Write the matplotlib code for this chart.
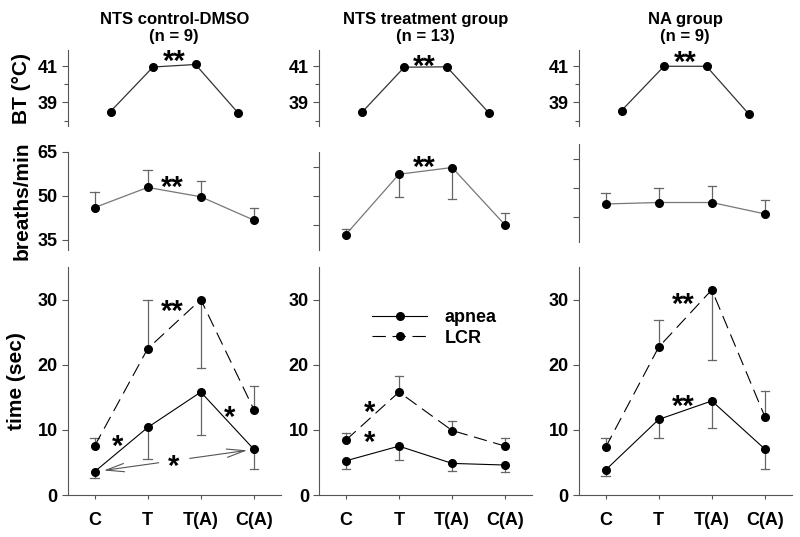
import matplotlib
matplotlib.use("Agg")
import matplotlib.pyplot as plt
import matplotlib.transforms as mtrans
import numpy as np

plt.rcParams["font.family"] = ["Liberation Sans", "DejaVu Sans"]
plt.rcParams["font.weight"] = "bold"

CATS = ["C", "T", "T(A)", "C(A)"]
TITLES = ["NTS control-DMSO\n(n = 9)", "NTS treatment group\n(n = 13)", "NA group\n(n = 9)"]

# body temperature (no error bars)
BT = [[38.5, 40.96, 41.1, 38.43],
      [38.45, 40.95, 40.97, 38.4],
      [38.55, 41.0, 41.0, 38.35]]

# breathing rate: mean, error magnitude, direction (+1 up / -1 down)
BR = [[46.0, 52.9, 49.7, 41.7],
      [36.8, 57.4, 59.7, 40.0],
      [44.5, 45.0, 45.0, 41.1]]
BR_ERR = [[5.4, 6.1, 5.4, 4.0],
          [1.9, 7.7, 10.9, 4.0],
          [3.9, 4.9, 5.7, 4.8]]
BR_SIDE = [[1, 1, 1, 1],
           [1, -1, -1, 1],
           [1, 1, 1, 1]]

# apnea / LCR durations (sec)
APNEA = [[3.57, 10.37, 15.8, 7.0],
         [5.25, 7.5, 4.85, 4.6],
         [3.83, 11.6, 14.44, 7.04]]
APNEA_ERR = [[1.0, 4.9, 6.6, 3.0],
             [1.3, 2.1, 1.1, 1.1],
             [0.9, 2.8, 4.1, 3.1]]
APNEA_SIDE = [[-1, -1, -1, -1],
              [-1, -1, -1, -1],
              [-1, -1, -1, -1]]
LCR = [[7.5, 22.46, 30.0, 13.1],
       [8.42, 15.8, 9.9, 7.5],
       [7.3, 22.7, 31.5, 12.0]]
LCR_ERR = [[1.2, 7.5, 10.5, 3.6],
           [1.1, 2.4, 1.5, 1.2],
           [1.5, 4.2, 10.7, 4.0]]
LCR_SIDE = [[1, 1, -1, 1],
            [1, 1, 1, 1],
            [1, 1, -1, 1]]

# significance marks: (x, y, text) in data units
STARS_BT = [(1.5, 41.5, "**"), (1.48, 41.25, "**"), (1.5, 41.45, "**")]
STARS_BR = [[(1.46, 54.3, "**")], [(1.48, 61.1, "**")], []]
STARS_T = [[(1.46, 28.8, "**"), (0.43, 8.1, "*"), (2.55, 12.6, "*"), (1.48, 5.05, "*")],
           [(0.45, 13.3, "*"), (0.45, 8.7, "*")],
           [(1.46, 29.9, "**"), (1.46, 14.3, "**")]]

W, H = 800, 537
fig = plt.figure(figsize=(W / 100, H / 100), dpi=100)
LEFTS = [68, 319.3, 579]
AW = 212.5
MID_TOP = [152, 152, 144]
SP = "#555555"
ERRC = "#666666"


def px_ax(left, top, bottom):
    return fig.add_axes([left / W, 1 - bottom / H, AW / W, (bottom - top) / H])


def style(ax, bottom_axis=False):
    for s in ["top", "right"]:
        ax.spines[s].set_visible(False)
    ax.spines["left"].set_color(SP)
    ax.spines["left"].set_linewidth(0.8)
    if bottom_axis:
        ax.spines["bottom"].set_color(SP)
        ax.spines["bottom"].set_linewidth(0.8)
    else:
        ax.spines["bottom"].set_visible(False)
        ax.set_xticks([])
    ax.tick_params(axis="both", direction="out", length=4, width=0.8, color=SP,
                   labelsize=13)
    ax.patch.set_alpha(0)


def errs(ax, x, y, e, side, color=ERRC):
    for xi, yi, ei, si in zip(x, y, e, side):
        end = yi + si * ei
        ax.plot([xi, xi], [yi, end], color=color, lw=0.9, zorder=1)
        ax.plot([xi - 0.08, xi + 0.08], [end, end], color=color, lw=0.9, zorder=1)


def stars(ax, marks):
    tr = mtrans.offset_copy(ax.transData, fig=fig, y=-5, units="dots")
    for sx, sy, st in marks:
        ax.text(sx, sy, st, ha="center", va="center", fontsize=21,
                fontweight="bold", transform=tr)


x = np.arange(len(CATS))
for i in range(3):
    L = LEFTS[i]
    # --- body temperature
    ax = px_ax(L, 50, 126)
    style(ax)
    ax.plot(x, BT[i], color="#333333", lw=0.9, marker="o", ms=5.5, mfc="black",
            mec="black")
    ax.set_xlim(-1, 4)
    ax.set_ylim(37.7, 41.9)
    ax.set_yticks([39, 41])
    ax.set_yticks([38, 40], minor=True)
    ax.tick_params(axis="y", which="minor", length=3, width=0.8, color=SP)
    stars(ax, [STARS_BT[i]])
    ax.set_title(TITLES[i], fontsize=12, fontweight="bold", pad=6.5, linespacing=1.15)
    if i == 0:
        ax.set_ylabel("BT (°C)", fontsize=15, fontweight="bold", labelpad=5)

    # --- breathing rate
    ax = px_ax(L, MID_TOP[i], MID_TOP[i] + 98.3)
    style(ax)
    errs(ax, x, BR[i], BR_ERR[i], BR_SIDE[i])
    ax.plot(x, BR[i], color="#777777", lw=0.9, marker="o", ms=5.5, mfc="black",
            mec="black", zorder=3)
    ax.set_xlim(-0.5, 3.5)
    ax.set_ylim(31.4, 65)
    if i == 0:
        ax.set_yticks([35, 50, 65])
        ax.set_ylabel("breaths/min", fontsize=15, fontweight="bold", labelpad=4)
    else:
        ax.set_yticks([40, 50, 60])
        ax.set_yticklabels([])
    stars(ax, STARS_BR[i])

    # --- apnea / LCR time
    ax = px_ax(L, 267, 495)
    style(ax, bottom_axis=True)
    errs(ax, x, APNEA[i], APNEA_ERR[i], APNEA_SIDE[i])
    errs(ax, x, LCR[i], LCR_ERR[i], LCR_SIDE[i])
    ax.plot(x, APNEA[i], color="black", lw=0.8, marker="o", ms=5.5, mfc="black",
            mec="black", zorder=3, label="apnea")
    ax.plot(x, LCR[i], color="black", lw=0.8, ls=(0, (12, 6)), marker="o", ms=5.5,
            mfc="black", mec="black", zorder=3, label="LCR")
    ax.set_xlim(-0.5, 3.5)
    ax.set_ylim(0, 35)
    ax.set_yticks([0, 10, 20, 30])
    ax.set_xticks(x)
    ax.set_xticklabels(CATS, fontsize=13, fontweight="bold")
    ax.tick_params(axis="x", pad=9, length=3)
    stars(ax, STARS_T[i])
    if i == 0:
        ax.set_ylabel("time (sec)", fontsize=15, fontweight="bold", labelpad=8)
        # double-headed arrow C -> C(A) with gap for the star
        a0 = np.array([0, APNEA[i][0]], dtype=float)
        a1 = np.array([3, APNEA[i][3]], dtype=float)
        for f_tail, f_head in [(0.42, 0.04), (0.58, 0.975)]:
            ax.annotate("", xy=a0 + f_head * (a1 - a0), xytext=a0 + f_tail * (a1 - a0),
                        arrowprops=dict(arrowstyle="->,head_length=1.3,head_width=0.3",
                                        color="#555555", lw=0.8))
    if i == 1:
        ax.legend(loc="upper left", bbox_to_anchor=(0.25, 0.815), frameon=False,
                  fontsize=13, handlelength=3.0, handletextpad=1.0, labelspacing=0.2,
                  borderpad=0, borderaxespad=0)

fig.savefig("out.png", dpi=100, facecolor="white")
